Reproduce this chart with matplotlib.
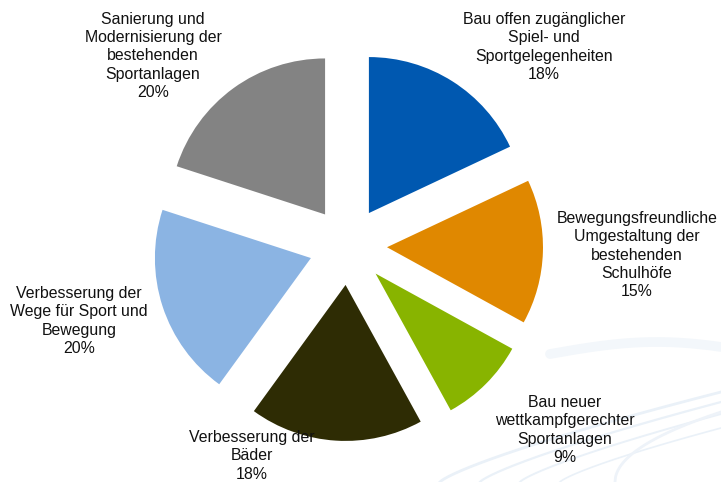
import numpy as np
import matplotlib.pyplot as plt

plt.rcParams['font.family'] = ['Liberation Sans', 'DejaVu Sans']

# Daten
labels = ['Bau offen zugänglicher\nSpiel- und\nSportgelegenheiten',
          'Bewegungsfreundliche\nUmgestaltung der\nbestehenden\nSchulhöfe',
          'Bau neuer\nwettkampfgerechter\nSportanlagen',
          'Verbesserung der\nBäder',
          'Verbesserung der\nWege für Sport und\nBewegung',
          'Sanierung und\nModernisierung der\nbestehenden\nSportanlagen']
values = [18, 15, 9, 18, 20, 20]
colors = ['#0058B0', '#E08800', '#88B400', '#2E2C04', '#8BB4E3', '#838383']

# Pixel-Layout (Referenz 721x482)
W, H = 721, 482
cx, cy, R = 348, 246, 156
label_px = [(544, 47), (637, 255), (565, 430), (252, 456), (79, 321), (153, 56)]


def px2d(px, py):
    return (np.asarray(px) - cx) / R, (cy - np.asarray(py)) / R


fig = plt.figure(figsize=(W / 100, H / 100), dpi=100)
ax = fig.add_axes([0, 0, 1, 1])

# dezente Hintergrund-Schwuenge unten rechts (nur Dekor)
t = np.linspace(0, 1, 200)
# breites Band oben
bx, by = px2d(550 + 171 * t, 354 - 12 * np.sin(np.pi * t * 0.8))
ax.plot(bx, by, color='#F3F7FB', lw=7, zorder=0, solid_capstyle='round')
# flache Linien von unten links nach oben rechts
for x0, y1, lw in [(440, 392, 2.0), (480, 402, 1.6), (520, 414, 1.4), (560, 428, 1.2)]:
    lx, ly = px2d(x0 + (721 - x0) * t, 482 - (482 - y1) * t ** 0.8)
    ax.plot(lx, ly, color='#EAF1F8', lw=lw, zorder=0)
# geschwungener Bogen
ax_, ay_ = px2d(615 + 106 * t, 482 - 70 * np.sqrt(t))
ax.plot(ax_, ay_, color='#EEF3F9', lw=2, zorder=0)

wedges, _ = ax.pie(values, colors=colors, startangle=90, counterclock=False,
                   explode=[0.25] * len(values), radius=1.0,
                   wedgeprops=dict(linewidth=0), center=(0, 0))
for w in wedges:
    w.set_zorder(2)

for lab, v, (px, py) in zip(labels, values, label_px):
    x, y = px2d(px, py)
    ax.text(x, y, '%s\n%d%%' % (lab, v), ha='center', va='center',
            fontsize=11.4, color='#111111', linespacing=1.28, zorder=5)

ax.set_xlim(-cx / R, (W - cx) / R)
ax.set_ylim(-(H - cy) / R, cy / R)
ax.set_aspect('auto')
ax.axis('off')

fig.savefig('out.png', dpi=100)
